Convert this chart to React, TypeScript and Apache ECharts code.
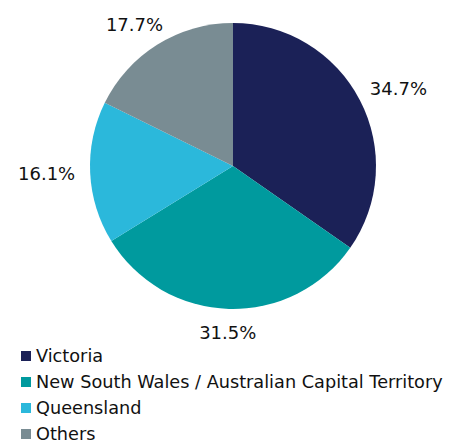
import React, { useEffect, useRef } from "react";
import * as echarts from "echarts";

const categories = [
  "Victoria",
  "New South Wales / Australian Capital Territory",
  "Queensland",
  "Others",
];
const values = [34.7, 31.5, 16.1, 17.7];
const colors = ["#1b2157", "#009a9e", "#2bb8db", "#798c93"];

const CX = 233;
const CY = 166;
const R = 143;
const LABEL_GAP = 15;

export default function App() {
  const ref = useRef<HTMLDivElement>(null);
  useEffect(() => {
    if (!ref.current) return;
    const chart = echarts.init(ref.current, undefined, { renderer: "svg" });
    const font = "'DejaVu Sans', sans-serif";
    const total = values.reduce((a, b) => a + b, 0);
    const mids: number[] = [];
    let acc = 0;
    values.forEach((v) => {
      mids.push(((acc + v / 2) / total) * Math.PI * 2);
      acc += v;
    });
    chart.setOption({
      animation: false,
      color: colors,
      legend: {
        orient: "vertical",
        left: 21,
        top: 347,
        height: 110,
        padding: 0,
        itemWidth: 10,
        itemHeight: 10,
        itemGap: 8,
        icon: "rect",
        textStyle: { fontFamily: font, fontSize: 17.7, color: "#111" },
        data: categories,
      },
      series: [
        {
          type: "pie",
          center: [CX, CY],
          radius: R,
          startAngle: 90,
          clockwise: true,
          data: categories.map((c, i) => ({ name: c, value: values[i] })),
          label: {
            show: true,
            position: "outside",
            formatter: (p: any) => p.value.toFixed(1) + "%",
            fontFamily: font,
            fontSize: 18,
            color: "#111",
          },
          labelLine: { show: false, length: 12, length2: 0 },
          labelLayout: (p: any) => {
            const a = mids[p.dataIndex];
            const ux = Math.sin(a);
            const uy = -Math.cos(a);
            const w = p.labelRect.width;
            const h = p.labelRect.height;
            return {
              x: CX + ux * (R + LABEL_GAP) + (ux * w) / 2,
              y: CY + uy * (R + LABEL_GAP) + (uy * h) / 2,
              align: "center",
              verticalAlign: "middle",
            };
          },
          itemStyle: { borderWidth: 0 },
          emphasis: { disabled: true },
        },
      ],
    });
    return () => chart.dispose();
  }, []);
  return (
    <div
      ref={ref}
      style={{ position: "fixed", left: 0, top: 0, width: 453, height: 443, background: "#fff" }}
    />
  );
}
